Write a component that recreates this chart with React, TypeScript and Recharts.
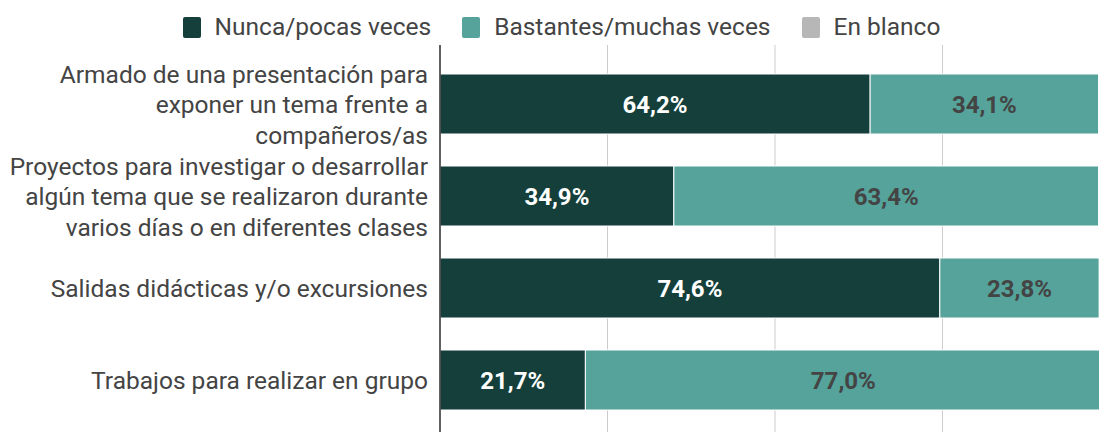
import { BarChart, Bar, XAxis, YAxis, CartesianGrid, LabelList } from "recharts";

const categories = [
  "Armado de una presentación para\nexponer un tema frente a\ncompañeros/as",
  "Proyectos para investigar o desarrollar\nalgún tema que se realizaron durante\nvarios días o en diferentes clases",
  "Salidas didácticas y/o excursiones",
  "Trabajos para realizar en grupo",
];
const nunca = [64.2, 34.9, 74.6, 21.7];
const bastantes = [34.1, 63.4, 23.8, 77.0];
const enBlanco = [1.7, 1.7, 1.6, 1.3];
const xTicks = [0, 25, 50, 75, 100];

const seriesNames = ["Nunca/pocas veces", "Bastantes/muchas veces", "En blanco"];
const seriesColors = ["#143f3a", "#55a39a", "#b7b7b7"];

const data = categories.map((cat, i) => ({
  cat,
  nunca: nunca[i],
  bastantes: bastantes[i],
  blanco: enBlanco[i],
}));

const fmt = (v: any) => Number(v).toFixed(1).replace(".", ",") + "%";

function CategoryTick(props: any) {
  const { x, y, payload } = props;
  const lines = String(payload.value).split("\n");
  const lh = 30.5;
  const start = -((lines.length - 1) * lh) / 2;
  return (
    <text x={x} y={y} textAnchor="end" fill="#444" fontSize={24.5} fontFamily="Roboto">
      {lines.map((l, i) => (
        <tspan key={i} x={x} dy={i === 0 ? start + 9 : lh}>
          {l}
        </tspan>
      ))}
    </text>
  );
}

export default function App() {
  return (
    <div
      style={{
        position: "absolute",
        left: 0,
        top: 0,
        width: 1099,
        height: 432,
        overflow: "hidden",
        background: "#fff",
        fontFamily: "Roboto",
      }}
    >
      <div
        style={{
          position: "absolute",
          top: 12,
          left: 0,
          width: 1123,
          display: "flex",
          justifyContent: "center",
          gap: 31,
          fontSize: 24.5,
          color: "#444",
          lineHeight: "30px",
        }}
      >
        {seriesNames.map((n, i) => (
          <div key={n} style={{ display: "flex", alignItems: "center", gap: 14 }}>
            <span
              style={{
                display: "inline-block",
                width: 18,
                height: 21,
                borderRadius: 2,
                background: seriesColors[i],
              }}
            />
            <span>{n}</span>
          </div>
        ))}
      </div>
      <BarChart
        width={1110}
        height={450}
        data={data}
        layout="vertical"
        margin={{ top: 45, right: 0, bottom: 10, left: 0 }}
        style={{ position: "absolute", top: 0, left: 0 }}
      >
        <CartesianGrid horizontal={false} vertical={true} stroke="#cccccc" />
        <XAxis type="number" domain={[0, 100]} ticks={xTicks} hide />
        <YAxis
          type="category"
          dataKey="cat"
          width={440}
          axisLine={{ stroke: "#333", strokeWidth: 1.5 }}
          tickLine={false}
          tickSize={0}
          tickMargin={12}
          padding={{ top: 13, bottom: 14 }}
          tick={<CategoryTick />}
          interval={0}
        />
        <Bar dataKey="nunca" stackId="a" fill={seriesColors[0]} stroke="#fff" strokeWidth={1} barSize={60} isAnimationActive={false}>
          <LabelList dataKey="nunca" position="center" formatter={fmt} fill="#fff" fontSize={24} fontWeight={700} fontFamily="Roboto" />
        </Bar>
        <Bar dataKey="bastantes" stackId="a" fill={seriesColors[1]} stroke="#fff" strokeWidth={1} barSize={60} isAnimationActive={false}>
          <LabelList dataKey="bastantes" position="center" formatter={fmt} fill="#444" fontSize={24} fontWeight={700} fontFamily="Roboto" />
        </Bar>
        <Bar dataKey="blanco" stackId="a" fill={seriesColors[2]} stroke="#fff" strokeWidth={1} barSize={60} isAnimationActive={false} />
      </BarChart>
    </div>
  );
}
